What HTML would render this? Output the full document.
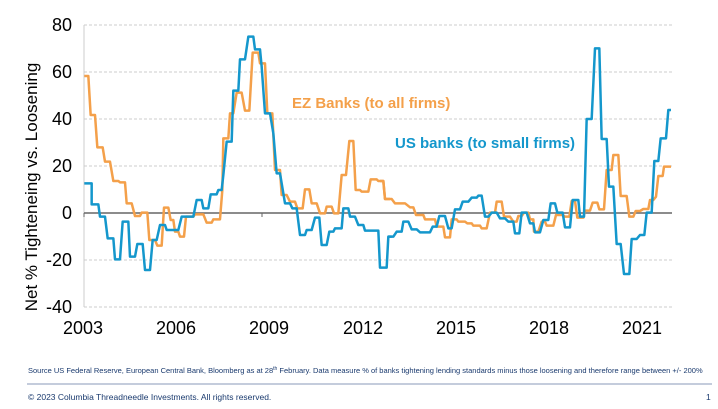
<!DOCTYPE html>
<html><head><style>
body{margin:0;background:#fff;width:718px;height:404px;overflow:hidden;font-family:"Liberation Sans",Arial,sans-serif}
</style></head><body>
<svg width="718" height="404" viewBox="0 0 718 404" xmlns="http://www.w3.org/2000/svg" font-family="Liberation Sans, Arial, sans-serif">
<g stroke="#ccc" stroke-dasharray="3,2" stroke-width="1">
<line x1="84" x2="672" y1="25" y2="25"/><line x1="84" x2="672" y1="72" y2="72"/>
<line x1="84" x2="672" y1="119" y2="119"/><line x1="84" x2="672" y1="166" y2="166"/>
<line x1="84" x2="672" y1="260" y2="260"/><line x1="84" x2="672" y1="307" y2="307"/>
</g>
<line x1="84" x2="84" y1="25" y2="307" stroke="#ccc"/>
<line x1="84" x2="672" y1="213" y2="213" stroke="#666" stroke-width="1.5"/>
<line x1="84" x2="84" y1="213" y2="217" stroke="#666"/><line x1="262" x2="262" y1="213" y2="217" stroke="#666"/>
<g font-size="18" fill="#000" text-anchor="end">
<text x="72" y="31">80</text><text x="72" y="78">60</text><text x="72" y="125">40</text>
<text x="72" y="172">20</text><text x="72" y="219">0</text><text x="72" y="266">-20</text><text x="72" y="313">-40</text>
</g>
<g font-size="18" fill="#000" text-anchor="middle">
<text x="83" y="334">2003</text><text x="176" y="334">2006</text><text x="269" y="334">2009</text>
<text x="363" y="334">2012</text><text x="456" y="334">2015</text><text x="549" y="334">2018</text><text x="642" y="334">2021</text>
</g>
<text transform="translate(37,187) rotate(-90)" font-size="17" text-anchor="middle">Net % Tighteneing vs. Loosening</text>
<g fill="none" stroke-width="2.5" stroke-linejoin="round">
<g transform="translate(60,20) scale(0.33333)">
<polyline vector-effect="non-scaling-stroke" stroke="#F4A04A" points="73,168 85,168 92,285 105,285 112,382 128,382 135,425 150,425 160,483 175,483 180,487 195,487 200,550 215,550 225,588 240,588 245,578 262,578 268,660 285,660 292,677 305,677 312,563 325,563 332,600 340,600 345,635 355,635 360,650 372,650 378,590 400,590 405,583 430,583 440,608 455,608 460,598 480,598 487,510 490,355 505,355 510,280 520,280 530,218 545,218 555,272 568,272 578,98 595,98 600,130 615,130 622,280 637,280 645,450 660,450 665,525 680,525 690,545 705,545 712,565 728,565 735,508 748,508 755,550 770,550 780,580 795,580 800,560 815,560 822,580 835,580 845,465 858,465 868,363 880,363 887,510 900,510 905,515 925,515 932,478 950,478 955,483 970,483 975,537 990,537"/>
<polyline vector-effect="non-scaling-stroke" stroke="#1497CC" points="73,490 95,490 95,553 115,553 120,590 135,590 143,655 160,655 165,718 180,718 188,605 205,605 210,710 225,710 232,672 248,672 255,750 270,750 278,660 290,660 300,615 315,615 320,630 355,630 365,590 400,590 410,540 425,540 430,565 445,565 452,523 470,523 475,510 485,510 490,465 500,365 515,365 520,212 535,212 540,118 555,118 565,50 580,50 585,88 600,88 605,140 615,280 630,280 640,340 650,460 660,460 665,490 675,550 690,550 697,565 710,565 720,645 735,645 740,630 755,630 765,593 778,593 785,675 800,675 808,635 820,635 825,625 845,625 850,565 865,565 870,590 885,590 895,615 910,615 915,632 955,632 960,743 980,743 985,650 995,650"/>
</g>
<g transform="translate(380,20) scale(0.33333)">
<polyline vector-effect="non-scaling-stroke" stroke="#F4A04A" points="0,483 10,483 15,537 35,537 45,550 75,550 90,562 100,562 108,585 130,585 135,598 165,598 170,620 190,620 195,652 210,652 215,598 230,598 235,605 255,605 262,610 275,610 280,617 300,617 305,625 320,625 330,578 345,578 350,545 365,545 372,590 390,590 400,605 410,605 415,588 425,588 432,578 445,578 450,598 460,598 462,635 475,635 485,605 495,605 500,617 520,617 528,585 548,585 555,590 568,590 575,543 585,543 592,593 610,593 615,572 630,572 638,548 652,548 658,568 672,568 680,450 695,450 700,405 715,405 722,528 740,528 748,590 760,590 767,573 780,573 790,567 805,567 810,540 820,540 828,530 835,468 848,468 852,440 873,440"/>
<polyline vector-effect="non-scaling-stroke" stroke="#1497CC" points="25,650 40,650 50,635 65,635 70,605 85,605 95,628 110,628 120,637 150,637 158,620 170,620 178,588 195,588 205,625 215,625 225,568 240,568 248,545 265,545 275,533 290,533 295,527 305,527 315,590 325,590 335,578 350,578 360,595 375,595 385,605 400,605 405,640 418,640 425,578 440,578 450,610 460,610 465,637 480,637 490,600 505,600 512,550 525,550 532,578 548,578 555,622 570,622 578,540 595,540 600,590 612,590 620,297 635,297 645,85 658,85 665,357 680,357 687,500 700,500 710,672 722,672 732,762 748,762 755,657 770,657 780,645 793,645 800,578 815,578 823,423 835,423 842,355 858,355 865,270 873,270"/>
</g>
</g>
<text x="292" y="108" font-size="15" font-weight="bold" fill="#F4A04A">EZ Banks (to all firms)</text>
<text x="395" y="148" font-size="15" font-weight="bold" fill="#1497CC">US banks (to small firms)</text>
<text x="28" y="373" font-size="7.5" fill="#1a3a6e">Source US Federal Reserve, European Central Bank, Bloomberg as at  28<tspan font-size="5" dy="-3">th</tspan><tspan dy="3"> February. Data measure % of banks tightening lending standards minus those loosening and therefore range between +/- 200%</tspan></text>
<line x1="27" x2="712" y1="384" y2="384" stroke="#8a9ab8" stroke-width="1"/>
<text x="28" y="400" font-size="8.5" fill="#1a3a6e">© 2023 Columbia Threadneedle Investments. All rights reserved.</text>
<text x="706" y="400" font-size="8.5" fill="#1a3a6e">1</text>
</svg>
</body></html>
